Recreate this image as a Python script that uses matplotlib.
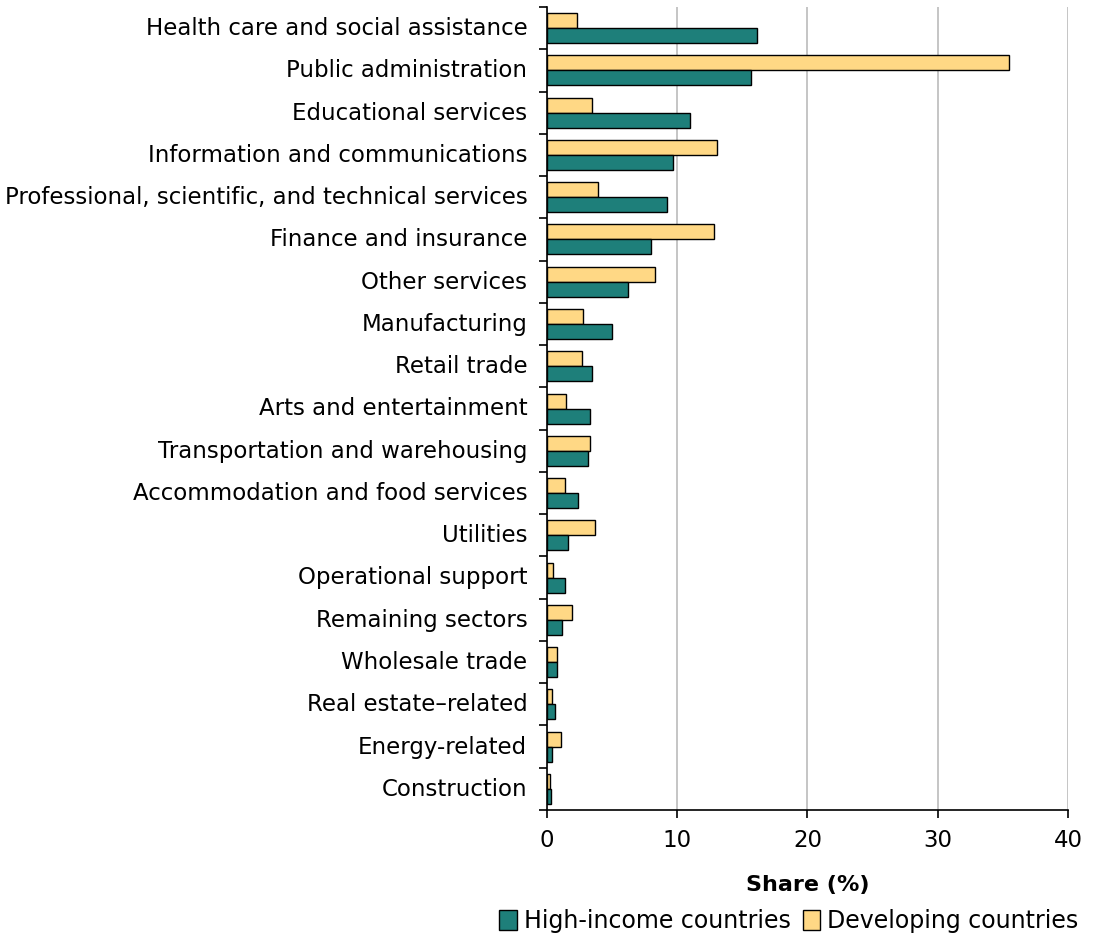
import numpy as np
import matplotlib
matplotlib.use("Agg")
import matplotlib.pyplot as plt
from matplotlib.patches import Patch

plt.rcParams['font.family'] = ['DejaVu Sans']

sectors = ["Health care and social assistance", "Public administration", "Educational services",
           "Information and communications", "Professional, scientific, and technical services",
           "Finance and insurance", "Other services", "Manufacturing", "Retail trade",
           "Arts and entertainment", "Transportation and warehousing",
           "Accommodation and food services", "Utilities", "Operational support",
           "Remaining sectors", "Wholesale trade", "Real estate\u2013related", "Energy-related",
           "Construction"]
high_income = [16.1, 15.7, 11.0, 9.7, 9.2, 8.0, 6.2, 5.0, 3.5, 3.3, 3.2, 2.4, 1.6, 1.4,
               1.2, 0.8, 0.65, 0.43, 0.36]
developing = [2.3, 35.5, 3.5, 13.1, 3.9, 12.8, 8.3, 2.8, 2.7, 1.5, 3.35, 1.4, 3.7, 0.5,
              1.9, 0.75, 0.43, 1.13, 0.23]

teal = "#1E7F7A"
yellow = "#FFD885"

fig = plt.figure(figsize=(10.99, 9.36), dpi=100)
ax = fig.add_axes([0.4975, 0.1346, 0.4743, 0.8579])

y = np.arange(len(sectors))
h = 0.355
ax.barh(y - h / 2, developing, height=h, color=yellow, edgecolor="black", linewidth=1, zorder=3)
ax.barh(y + h / 2, high_income, height=h, color=teal, edgecolor="black", linewidth=1, zorder=3)

ax.set_ylim(len(sectors) - 0.5, -0.5)
ax.set_xlim(0, 40)
ax.set_xticks([0, 10, 20, 30, 40])
ax.set_yticks(y - 0.05)
ax.set_yticklabels(sectors, fontsize=16.5)
ax.set_yticks(np.arange(-0.5, len(sectors)), minor=True)
ax.tick_params(axis="y", which="major", length=0, pad=14)
ax.tick_params(axis="y", which="minor", length=6, width=1.2, direction="out")
ax.tick_params(axis="x", labelsize=16.5, length=6, width=1.2, pad=8)

ax.grid(axis="x", color="#bbbbbb", linewidth=1.2, zorder=0)
for s in ["top", "right"]:
    ax.spines[s].set_visible(False)
ax.spines["left"].set_linewidth(1.2)
ax.spines["bottom"].set_linewidth(1.2)

ax.set_xlabel("Share (%)", fontsize=16, fontweight="bold", labelpad=16)

handles = [Patch(facecolor=teal, edgecolor="black", label="High-income countries"),
           Patch(facecolor=yellow, edgecolor="black", label="Developing countries")]
fig.legend(handles=handles, loc="center right", bbox_to_anchor=(0.99, 0.016), ncol=2,
           frameon=False, fontsize=17, handlelength=0.75, handleheight=0.9,
           handletextpad=0.3, columnspacing=0.5, borderaxespad=0)

fig.savefig("out.png", dpi=100)
